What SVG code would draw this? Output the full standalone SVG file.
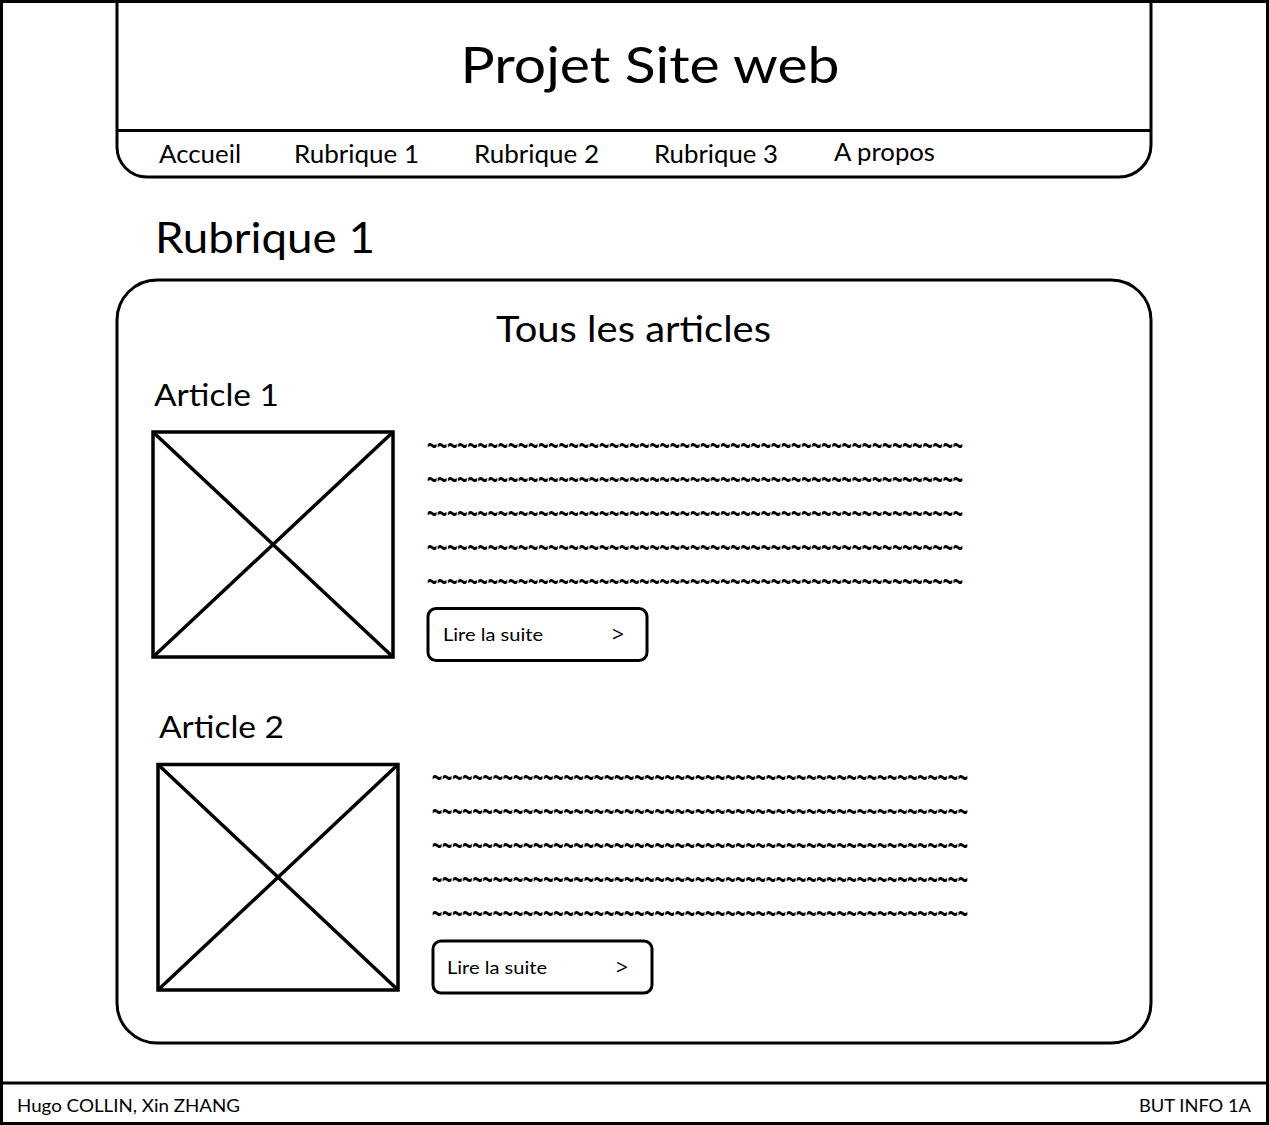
<svg xmlns="http://www.w3.org/2000/svg" width="1269" height="1125" viewBox="0 0 1269 1125">
  <style>
    text { font-family: Lato, "Open Sans", "Liberation Sans", sans-serif; fill: #000; }
    .line { fill: none; stroke: #000; stroke-width: 3; }
    .img { fill: none; stroke: #000; stroke-width: 3.5; }
    .btn { fill: #fff; stroke: #000; stroke-width: 3; }
    .nav { font-size: 25px; }
    .wave text { font-family: "Liberation Sans", Arial, sans-serif; font-size: 30px; font-weight: bold; }
    .btxt { font-size: 18px; }
    .arrow { font-size: 21px; font-family: "Open Sans", Lato, sans-serif; }
    .foot { font-size: 18px; }
    .art { font-size: 31px; }
  </style>

  <!-- page frame -->
  <rect x="0" y="0" width="1269" height="1125" fill="#fff"/>
  <g id="frame">
    <rect class="line" x="1.5" y="1.5" width="1266" height="1122"/>
    <line class="line" x1="0" y1="1083" x2="1269" y2="1083"/>
  </g>

  <!-- header with navigation bar -->
  <g id="header">
    <path class="line" d="M117 0 V147 A30 30 0 0 0 147 177 H1119 A32 32 0 0 0 1151 145 V0"/>
    <line class="line" x1="117" y1="130.5" x2="1151" y2="130.5"/>
    <text x="650" y="83" font-size="51" text-anchor="middle" textLength="379" lengthAdjust="spacingAndGlyphs">Projet Site web</text>
  </g>

  <g id="nav">
    <text class="nav" x="159" y="163" textLength="82" lengthAdjust="spacingAndGlyphs">Accueil</text>
    <text class="nav" x="294" y="163" textLength="125" lengthAdjust="spacingAndGlyphs">Rubrique 1</text>
    <text class="nav" x="474" y="163" textLength="125" lengthAdjust="spacingAndGlyphs">Rubrique 2</text>
    <text class="nav" x="654" y="163" textLength="124" lengthAdjust="spacingAndGlyphs">Rubrique 3</text>
    <text class="nav" x="834" y="161" textLength="101" lengthAdjust="spacingAndGlyphs">A propos</text>
  </g>

  <g id="section-title">
    <text x="155" y="253" font-size="43" textLength="220" lengthAdjust="spacingAndGlyphs">Rubrique 1</text>
  </g>

  <!-- articles panel -->
  <g id="articles-panel">
    <rect class="line" x="117" y="280" width="1034" height="763" rx="40" ry="40"/>
    <text x="633.5" y="342" font-size="37" text-anchor="middle" textLength="275" lengthAdjust="spacingAndGlyphs">Tous les articles</text>
  </g>

  <!-- article 1 -->
  <g id="article-1">
    <text class="art" x="154" y="406" textLength="125" lengthAdjust="spacingAndGlyphs">Article 1</text>
    <rect class="img" x="153" y="432" width="240" height="225"/>
    <path class="img" d="M153 432 L393 657 M393 432 L153 657"/>
    <!-- placeholder body text, squeezed horizontally -->
    <g class="wave" transform="translate(427 0) scale(0.58 1)">
      <text x="0" y="456" textLength="924" lengthAdjust="spacingAndGlyphs">~~~~~~~~~~~~~~~~~~~~~~~~~~~~~~~~~~~~~~~~~~~~~~~~~~~~~</text>
      <text x="0" y="490" textLength="924" lengthAdjust="spacingAndGlyphs">~~~~~~~~~~~~~~~~~~~~~~~~~~~~~~~~~~~~~~~~~~~~~~~~~~~~~</text>
      <text x="0" y="524" textLength="924" lengthAdjust="spacingAndGlyphs">~~~~~~~~~~~~~~~~~~~~~~~~~~~~~~~~~~~~~~~~~~~~~~~~~~~~~</text>
      <text x="0" y="558" textLength="924" lengthAdjust="spacingAndGlyphs">~~~~~~~~~~~~~~~~~~~~~~~~~~~~~~~~~~~~~~~~~~~~~~~~~~~~~</text>
      <text x="0" y="592" textLength="924" lengthAdjust="spacingAndGlyphs">~~~~~~~~~~~~~~~~~~~~~~~~~~~~~~~~~~~~~~~~~~~~~~~~~~~~~</text>
    </g>
  </g>
  <g id="button-1">
    <rect class="btn" x="428" y="608.5" width="219" height="52" rx="8" ry="8"/>
    <text class="btxt" x="443" y="641" textLength="100" lengthAdjust="spacingAndGlyphs">Lire la suite</text>
    <text class="arrow" x="612" y="642">&gt;</text>
  </g>

  <!-- article 2 -->
  <g id="article-2">
    <text class="art" x="159" y="738" textLength="125" lengthAdjust="spacingAndGlyphs">Article 2</text>
    <rect class="img" x="158" y="764.5" width="240" height="225.5"/>
    <path class="img" d="M158 764.5 L398 990 M398 764.5 L158 990"/>
    <g class="wave" transform="translate(432 0) scale(0.58 1)">
      <text x="0" y="788" textLength="924" lengthAdjust="spacingAndGlyphs">~~~~~~~~~~~~~~~~~~~~~~~~~~~~~~~~~~~~~~~~~~~~~~~~~~~~~</text>
      <text x="0" y="822" textLength="924" lengthAdjust="spacingAndGlyphs">~~~~~~~~~~~~~~~~~~~~~~~~~~~~~~~~~~~~~~~~~~~~~~~~~~~~~</text>
      <text x="0" y="856" textLength="924" lengthAdjust="spacingAndGlyphs">~~~~~~~~~~~~~~~~~~~~~~~~~~~~~~~~~~~~~~~~~~~~~~~~~~~~~</text>
      <text x="0" y="890" textLength="924" lengthAdjust="spacingAndGlyphs">~~~~~~~~~~~~~~~~~~~~~~~~~~~~~~~~~~~~~~~~~~~~~~~~~~~~~</text>
      <text x="0" y="924" textLength="924" lengthAdjust="spacingAndGlyphs">~~~~~~~~~~~~~~~~~~~~~~~~~~~~~~~~~~~~~~~~~~~~~~~~~~~~~</text>
    </g>
  </g>
  <g id="button-2">
    <rect class="btn" x="433" y="941" width="219" height="52" rx="8" ry="8"/>
    <text class="btxt" x="447" y="974" textLength="100" lengthAdjust="spacingAndGlyphs">Lire la suite</text>
    <text class="arrow" x="616" y="975">&gt;</text>
  </g>

  <!-- footer -->
  <g id="footer">
    <text class="foot" x="17" y="1112" textLength="223" lengthAdjust="spacingAndGlyphs">Hugo COLLIN, Xin ZHANG</text>
    <text class="foot" x="1251" y="1112" text-anchor="end" textLength="112" lengthAdjust="spacingAndGlyphs">BUT INFO 1A</text>
  </g>
</svg>
